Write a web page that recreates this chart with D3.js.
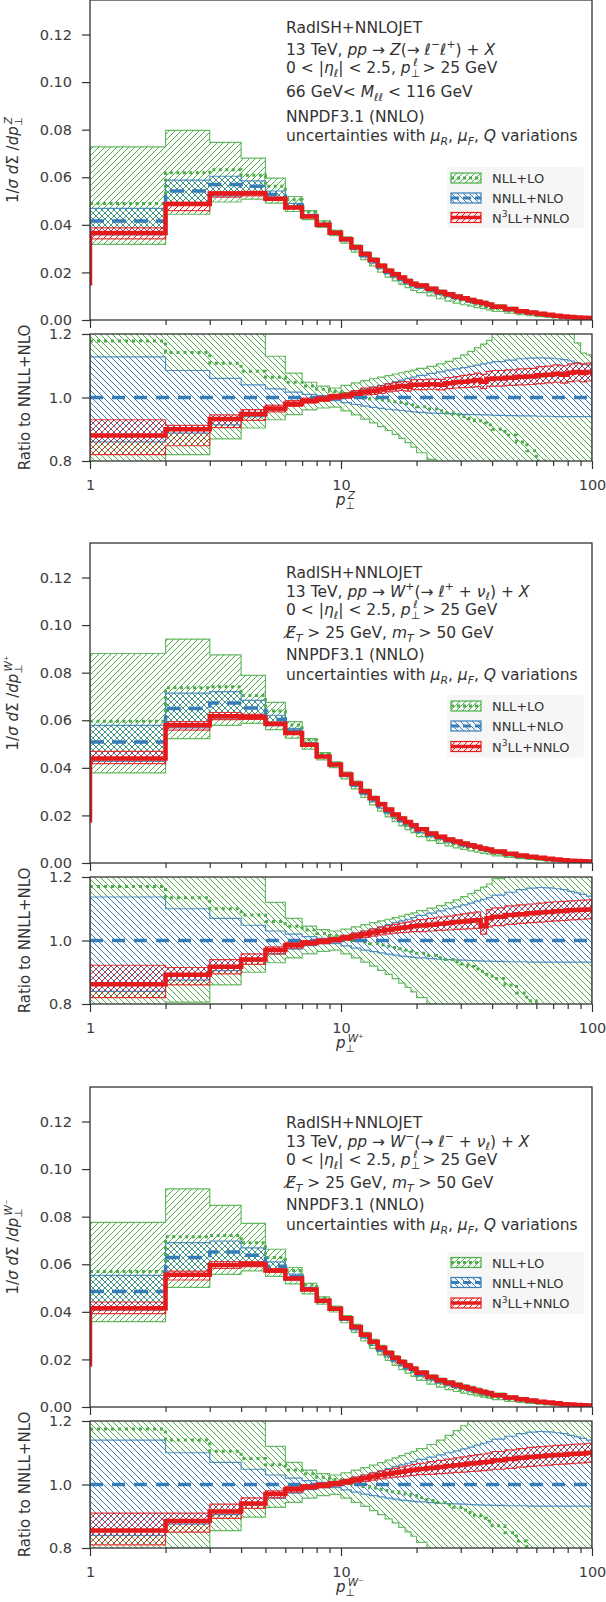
<!DOCTYPE html>
<html lang="en">
<head>
<meta charset="UTF-8">
<title>RadISH+NNLOJET transverse momentum spectra</title>
<script src="https://d3js.org/d3.v7.min.js"></script>
<style>
  body { margin: 0; background: #fff; }
  svg text { font-family: "DejaVu Sans", sans-serif; fill: #333; }
  .tick text { font-size: 14.5px; fill: #3c3c3c; font-family: "DejaVu Sans", sans-serif; }
  .tick line { stroke: #333; stroke-width: 1.2; }
</style>
</head>
<body>
<div id="chart"></div>
<script>
// bin edges (GeV)
const edges = [1,2,3,4,5,6,7,8,9,10,11,12,13,14,15,16,17,18,19,20,22,24,26,28,30,32,34,36,38,40,45,50,55,60,65,70,75,80,85,90,95,100];
const minorTicks = [2,3,4,5,6,7,8,9,20,30,40,50,60,70,80,90];
const mainTicks = [0, 0.02, 0.04, 0.06, 0.08, 0.10, 0.12];
const ratioTicks = [0.8, 1.0, 1.2];

// ---- Z panel ----
// NNLL+NLO central value, 1/sigma dSigma/dpT
const zBase = [0.0416,0.0542,0.0570,0.0562,0.0528,0.0482,0.0439,0.0402,0.0366,0.0337,0.0302,0.0272,0.0247,0.0222,0.0201,0.0186,0.0172,0.0159,0.0147,0.01394,0.01257,0.01135,0.01033,0.00945,0.00867,0.00798,0.0073,0.00676,0.00614,0.00528,0.00433,0.00347,0.00291,0.00243,0.00205,0.00167,0.0014,0.00121,0.00102,0.00088,0.00074];
// ratios to NNLL+NLO
const zNllMid = [1.178,1.142,1.108,1.083,1.064,1.048,1.036,1.026,1.019,1.012,1.005,0.998,0.995,0.992,0.99,0.987,0.984,0.98,0.977,0.971,0.964,0.958,0.952,0.946,0.94,0.934,0.927,0.92,0.913,0.9,0.882,0.86,0.832,0.8,0.77,0.74,0.71,0.68,0.66,0.64,0.62];
const zNllLo = [0.765,0.82,0.87,0.904,0.93,0.946,0.961,0.967,0.97,0.958,0.945,0.932,0.92,0.908,0.896,0.884,0.871,0.858,0.844,0.826,0.805,0.787,0.77,0.755,0.74,0.728,0.716,0.705,0.695,0.675,0.655,0.635,0.615,0.6,0.585,0.57,0.56,0.55,0.54,0.53,0.52];
const zNllHi = [1.75,1.47,1.31,1.21,1.13,1.077,1.048,1.036,1.03,1.038,1.046,1.053,1.059,1.064,1.069,1.074,1.078,1.082,1.086,1.092,1.098,1.106,1.114,1.123,1.134,1.145,1.157,1.168,1.18,1.2,1.23,1.26,1.28,1.3,1.31,1.3,1.25,1.2,1.172,1.14,1.134];
const zNnllLo = [0.86,0.888,0.914,0.94,0.96,0.975,0.985,0.99,0.99,0.984,0.978,0.973,0.969,0.966,0.963,0.961,0.959,0.957,0.955,0.953,0.951,0.95,0.949,0.948,0.947,0.946,0.946,0.945,0.945,0.944,0.943,0.942,0.942,0.941,0.941,0.94,0.94,0.94,0.94,0.94,0.94];
const zNnllHi = [1.128,1.085,1.06,1.04,1.027,1.017,1.01,1.006,1.008,1.014,1.02,1.027,1.033,1.038,1.044,1.05,1.055,1.06,1.064,1.07,1.076,1.081,1.086,1.09,1.094,1.098,1.102,1.106,1.109,1.113,1.118,1.122,1.124,1.125,1.124,1.122,1.119,1.115,1.11,1.106,1.102];
const zN3llMid = [0.88,0.9,0.932,0.948,0.965,0.98,0.99,0.996,1.002,1.006,1.012,1.018,1.021,1.025,1.03,1.033,1.036,1.034,1.04,1.04,1.042,1.04,1.045,1.048,1.05,1.052,1.055,1.05,1.058,1.06,1.062,1.065,1.066,1.07,1.072,1.075,1.072,1.078,1.08,1.077,1.08];
const zN3llLo = [0.82,0.848,0.905,0.928,0.955,0.972,0.982,0.988,0.994,0.997,1.002,1.008,1.01,1.013,1.018,1.02,1.022,1.02,1.025,1.025,1.026,1.024,1.028,1.03,1.031,1.032,1.034,1.028,1.035,1.036,1.038,1.04,1.041,1.044,1.046,1.048,1.045,1.05,1.052,1.049,1.052];
const zN3llHi = [0.93,0.912,0.945,0.962,0.976,0.99,0.998,1.004,1.01,1.015,1.022,1.03,1.032,1.037,1.043,1.047,1.05,1.049,1.056,1.056,1.058,1.057,1.063,1.066,1.07,1.073,1.077,1.073,1.082,1.085,1.087,1.09,1.092,1.097,1.099,1.103,1.1,1.106,1.108,1.105,1.108];
const zLead = 0.0145;

// ---- W+ panel ----
const wpBase = [0.0509,0.0649,0.0673,0.0652,0.0603,0.0555,0.05,0.0449,0.0413,0.0369,0.033,0.0296,0.0266,0.024,0.0217,0.0197,0.018,0.0165,0.0152,0.0135,0.0118,0.0105,0.0094,0.0085,0.0077,0.007,0.0064,0.0058,0.0053,0.0045,0.0036,0.0029,0.0024,0.002,0.0016,0.0013,0.0011,0.0009,0.0008,0.0007,0.0006];
const wpNllMid = [1.17,1.135,1.1,1.08,1.06,1.045,1.033,1.022,1.015,1.008,1.0,0.995,0.99,0.986,0.982,0.978,0.974,0.97,0.966,0.96,0.953,0.946,0.94,0.933,0.926,0.918,0.91,0.902,0.894,0.88,0.86,0.835,0.81,0.78,0.75,0.72,0.7,0.68,0.66,0.64,0.62];
const wpNllLo = [0.745,0.806,0.86,0.9,0.93,0.945,0.958,0.966,0.97,0.958,0.945,0.932,0.919,0.906,0.893,0.88,0.866,0.852,0.838,0.82,0.8,0.783,0.767,0.752,0.738,0.725,0.713,0.702,0.692,0.672,0.652,0.632,0.612,0.596,0.58,0.566,0.555,0.545,0.535,0.526,0.518];
const wpNllHi = [1.73,1.45,1.3,1.21,1.12,1.07,1.045,1.034,1.03,1.036,1.043,1.05,1.056,1.062,1.067,1.072,1.077,1.082,1.087,1.094,1.102,1.11,1.119,1.128,1.138,1.148,1.158,1.168,1.178,1.195,1.22,1.25,1.28,1.3,1.32,1.32,1.3,1.28,1.26,1.24,1.22];
const wpNnllLo = [0.84,0.875,0.905,0.935,0.957,0.973,0.984,0.99,0.99,0.983,0.976,0.97,0.965,0.961,0.957,0.954,0.951,0.949,0.947,0.945,0.943,0.941,0.94,0.939,0.938,0.937,0.936,0.935,0.935,0.934,0.933,0.933,0.932,0.932,0.932,0.932,0.932,0.932,0.932,0.932,0.932];
const wpNnllHi = [1.137,1.1,1.07,1.048,1.03,1.02,1.012,1.007,1.009,1.016,1.023,1.03,1.037,1.043,1.05,1.056,1.062,1.067,1.072,1.079,1.086,1.093,1.1,1.106,1.112,1.118,1.124,1.13,1.135,1.143,1.152,1.16,1.165,1.167,1.166,1.163,1.16,1.155,1.15,1.145,1.14];
const wpN3llMid = [0.862,0.892,0.917,0.94,0.97,0.985,0.993,0.998,1.002,1.008,1.014,1.02,1.025,1.03,1.034,1.037,1.04,1.042,1.045,1.047,1.05,1.053,1.055,1.058,1.06,1.062,1.064,1.045,1.07,1.075,1.08,1.083,1.086,1.088,1.09,1.092,1.093,1.095,1.096,1.097,1.098];
const wpN3llLo = [0.82,0.86,0.895,0.925,0.958,0.976,0.985,0.99,0.995,1.0,1.005,1.01,1.014,1.018,1.021,1.023,1.025,1.026,1.028,1.028,1.03,1.032,1.033,1.035,1.036,1.037,1.038,1.02,1.043,1.047,1.051,1.054,1.056,1.058,1.06,1.062,1.063,1.065,1.066,1.067,1.068];
const wpN3llHi = [0.922,0.915,0.94,0.958,0.98,0.994,1.0,1.005,1.01,1.016,1.023,1.03,1.036,1.042,1.047,1.051,1.055,1.058,1.062,1.066,1.07,1.074,1.077,1.081,1.084,1.087,1.09,1.07,1.097,1.103,1.109,1.112,1.115,1.118,1.12,1.122,1.123,1.125,1.126,1.127,1.128];
const wpLead = 0.017;

// ---- W- panel ----
const wmBase = [0.0485,0.0628,0.0652,0.0638,0.0592,0.0548,0.0497,0.0448,0.0412,0.037,0.0332,0.0298,0.0268,0.0242,0.0219,0.0199,0.0182,0.0167,0.0154,0.0137,0.012,0.0107,0.0096,0.0087,0.0079,0.0072,0.0065,0.0059,0.0054,0.0046,0.0037,0.003,0.0025,0.002,0.0017,0.0014,0.0011,0.001,0.0008,0.0007,0.0006];
const wmNllMid = [1.175,1.14,1.105,1.082,1.062,1.046,1.034,1.023,1.016,1.008,1.0,0.994,0.989,0.985,0.981,0.977,0.973,0.969,0.965,0.958,0.95,0.943,0.936,0.928,0.92,0.912,0.903,0.894,0.885,0.87,0.848,0.822,0.795,0.765,0.735,0.71,0.69,0.67,0.65,0.63,0.61];
const wmNllLo = [0.74,0.8,0.855,0.897,0.928,0.944,0.957,0.965,0.969,0.957,0.944,0.931,0.918,0.905,0.892,0.879,0.865,0.851,0.837,0.818,0.798,0.78,0.764,0.749,0.735,0.722,0.71,0.699,0.689,0.669,0.649,0.63,0.61,0.594,0.578,0.564,0.553,0.543,0.533,0.524,0.516];
const wmNllHi = [1.6,1.46,1.3,1.21,1.12,1.07,1.045,1.034,1.03,1.037,1.045,1.053,1.061,1.069,1.077,1.084,1.091,1.098,1.104,1.113,1.126,1.14,1.155,1.17,1.185,1.2,1.215,1.23,1.245,1.26,1.28,1.3,1.32,1.33,1.34,1.34,1.33,1.32,1.3,1.28,1.26];
const wmNnllLo = [0.84,0.875,0.905,0.935,0.957,0.973,0.984,0.99,0.99,0.983,0.976,0.97,0.965,0.961,0.957,0.954,0.951,0.949,0.947,0.945,0.943,0.941,0.94,0.939,0.938,0.937,0.936,0.935,0.935,0.934,0.933,0.933,0.932,0.932,0.932,0.932,0.932,0.932,0.932,0.932,0.932];
const wmNnllHi = [1.14,1.1,1.07,1.048,1.03,1.02,1.012,1.007,1.009,1.016,1.023,1.03,1.037,1.043,1.05,1.056,1.062,1.067,1.072,1.079,1.086,1.093,1.1,1.106,1.112,1.118,1.124,1.13,1.135,1.143,1.152,1.16,1.165,1.167,1.166,1.163,1.16,1.155,1.15,1.145,1.14];
const wmN3llMid = [0.855,0.885,0.915,0.94,0.97,0.985,0.993,0.998,1.002,1.008,1.014,1.02,1.025,1.03,1.034,1.037,1.04,1.043,1.046,1.049,1.052,1.055,1.058,1.061,1.063,1.066,1.068,1.07,1.072,1.076,1.08,1.084,1.087,1.089,1.091,1.093,1.094,1.096,1.097,1.098,1.1];
const wmN3llLo = [0.81,0.85,0.893,0.925,0.958,0.976,0.985,0.99,0.995,1.0,1.005,1.01,1.014,1.018,1.021,1.023,1.025,1.027,1.029,1.031,1.032,1.034,1.036,1.038,1.039,1.041,1.042,1.044,1.045,1.048,1.051,1.055,1.057,1.059,1.061,1.063,1.064,1.066,1.067,1.068,1.07];
const wmN3llHi = [0.91,0.91,0.938,0.958,0.98,0.994,1.0,1.005,1.01,1.016,1.023,1.03,1.036,1.042,1.047,1.051,1.055,1.059,1.063,1.067,1.072,1.076,1.08,1.084,1.087,1.091,1.094,1.096,1.099,1.104,1.109,1.113,1.117,1.119,1.121,1.123,1.124,1.126,1.127,1.128,1.13];
const wmLead = 0.017;

// ---- texts ----
const zNotes = [
  [['RadISH+NNLOJET']],
  [['13 TeV, '],['pp','i'],[' → '],['Z','i'],['(→ '],['ℓ','i'],['−','sup'],['ℓ','i'],['+','sup'],[') + '],['X','i']],
  [['0 < |'],['η','i'],['ℓ','isub'],['| < 2.5, '],['p','i'],['⊥','sub'],['ℓ','isup',-7],[' > 25 GeV']],
  [['66 GeV< '],['M','i'],['ℓℓ','isub'],[' < 116 GeV']],
  [['NNPDF3.1 (NNLO)']],
  [['uncertainties with '],['μ','i'],['R','isub'],[', '],['μ','i'],['F','isub'],[', '],['Q','i'],[' variations']]
];
const wpNotes = [
  [['RadISH+NNLOJET']],
  [['13 TeV, '],['pp','i'],[' → '],['W','i'],['+','sup'],['(→ '],['ℓ','i'],['+','sup'],[' + '],['ν','i'],['ℓ','isub'],[') + '],['X','i']],
  zNotes[2],
  [['E\u0338','i'],['T','isub'],[' > 25 GeV, '],['m','i'],['T','isub'],[' > 50 GeV']],
  zNotes[4],
  zNotes[5]
];
const wmNotes = [
  wpNotes[0],
  [['13 TeV, '],['pp','i'],[' → '],['W','i'],['−','sup'],['(→ '],['ℓ','i'],['−','sup'],[' + '],['ν','i'],['ℓ','isub'],[') + '],['X','i']],
  zNotes[2], wpNotes[3], zNotes[4], zNotes[5]
];
const legendNames = [[['NLL+LO']], [['NNLL+NLO']], [['N'],['3','sup'],['LL+NNLO']]];

const panels = [
  {off: 0, base: zBase, nll: [zNllMid, zNllLo, zNllHi], nnll: [zNnllLo, zNnllHi], n3ll: [zN3llMid, zN3llLo, zN3llHi], lead: zLead,
   boson: 'Z', notes: zNotes, noteY: [33, 55, 73, 97, 122, 141], legY: [178, 198, 217.5]},
  {off: 543, base: wpBase, nll: [wpNllMid, wpNllLo, wpNllHi], nnll: [wpNnllLo, wpNnllHi], n3ll: [wpN3llMid, wpN3llLo, wpN3llHi], lead: wpLead,
   boson: 'W⁺', notes: wpNotes, noteY: [35, 53.5, 72, 95, 117, 137], legY: [163, 183, 203.5]},
  {off: 1087, base: wmBase, nll: [wmNllMid, wmNllLo, wmNllHi], nnll: [wmNnllLo, wmNnllHi], n3ll: [wmN3llMid, wmN3llLo, wmN3llHi], lead: wmLead,
   boson: 'W⁻', notes: wmNotes, noteY: [41, 59.5, 78, 101, 123, 143], legY: [175.5, 195.5, 216]}
];

const green = '#4daf4a', blue = '#377eb8', red = '#e41a1c';

const svg = d3.select('#chart').append('svg')
    .attr('width', 606).attr('height', 1602);
const defs = svg.append('defs');

// hatch patterns
function hatch(id, color, dir) {
    const s = 6;
    const d = dir === '/'
        ? `M0,${s} L${s},0 M${-s/2},${s/2} L${s/2},${-s/2} M${s/2},${s*1.5} L${s*1.5},${s/2}`
        : `M0,0 L${s},${s} M${-s/2},${s/2} L${s/2},${s*1.5} M${s/2},${-s/2} L${s*1.5},${s/2}`;
    defs.append('pattern').attr('id', id)
        .attr('patternUnits', 'userSpaceOnUse').attr('width', s).attr('height', s)
        .append('path').attr('d', d).attr('stroke', color).attr('stroke-width', 1).attr('fill', 'none');
}
hatch('gF', green, '/'); hatch('gB', green, '\\');
hatch('bB', blue, '\\'); hatch('rF', red, '/');

// rich text with italic / sub / superscripts
function rich(sel, parts, size) {
    let shift = 0;
    parts.forEach(([t, s = '', dx = 0]) => {
        const sup = s.endsWith('sup'), sub = s.endsWith('sub');
        const target = sup ? -0.42 * size : sub ? 0.25 * size : 0;
        const ts = sel.append('tspan').text(t).attr('dy', target - shift);
        if (dx) ts.attr('dx', dx);
        shift = target;
        if (s.startsWith('i')) ts.attr('font-style', 'italic');
        if (sup || sub) ts.attr('font-size', size * 0.7);
    });
}

function stepLine(vals, x, y, lead) {
    let d = lead !== undefined ? `M${x(edges[0])},${y(lead)}` : '';
    vals.forEach((v, i) => {
        d += (i === 0 && lead === undefined ? `M${x(edges[0])},${y(v)}` : `V${y(v)}`) + `H${x(edges[i + 1])}`;
    });
    return d;
}
function stepBand(lo, hi, x, y) {
    let d = stepLine(hi, x, y);
    for (let i = lo.length - 1; i >= 0; i--) d += `V${y(lo[i])}H${x(edges[i])}`;
    return d + 'Z';
}

const x = d3.scaleLog().domain([1, 100]).range([90, 592]);
const yM = d3.scaleLinear().domain([0, 0.1345]).range([320, 0]);
const yR = d3.scaleLinear().domain([0.8, 1.2]).range([461, 334]);

function drawPanel(p, k) {
    const g = svg.append('g').attr('transform', `translate(0,${p.off})`);
    const times = r => p.base.map((b, i) => b * r[i]);
    const ones = p.base.map(() => 1);

    ['M', 'R'].forEach(t => {
        const y = t === 'M' ? yM : yR;
        defs.append('clipPath').attr('id', `clip${t}${k}`)
            .append('rect').attr('x', 90).attr('y', y.range()[1])
            .attr('width', 502).attr('height', y.range()[0] - y.range()[1]);
    });

    // main panel
    const m = g.append('g').attr('clip-path', `url(#clipM${k})`);
    const mainBands = [
        [times(p.nll[1]), times(p.nll[2]), 'url(#gF)', green],
        [times(p.nnll[0]), times(p.nnll[1]), 'url(#bB)', blue],
        [times(p.n3ll[1]), times(p.n3ll[2]), 'url(#rF)', red]
    ];
    mainBands.forEach(([lo, hi, fill, c]) => {
        m.append('path').attr('d', stepBand(lo, hi, x, yM))
            .attr('fill', fill).attr('stroke', c).attr('stroke-width', 1.2).attr('stroke-opacity', 0.85);
    });
    m.append('path').attr('d', stepLine(times(p.nll[0]), x, yM)).attr('fill', 'none')
        .attr('stroke', green).attr('stroke-width', 3).attr('stroke-dasharray', '3,3.5');
    m.append('path').attr('d', stepLine(p.base, x, yM)).attr('fill', 'none')
        .attr('stroke', blue).attr('stroke-width', 3.5).attr('stroke-dasharray', '14,8');
    m.append('path').attr('d', stepLine(times(p.n3ll[0]), x, yM, p.lead)).attr('fill', 'none')
        .attr('stroke', red).attr('stroke-width', 4.5);

    // ratio panel
    const r = g.append('g').attr('clip-path', `url(#clipR${k})`);
    [[p.nll[1], p.nll[2], 'url(#gB)', green], [p.nnll[0], p.nnll[1], 'url(#bB)', blue], [p.n3ll[1], p.n3ll[2], 'url(#rF)', red]]
        .forEach(([lo, hi, fill, c]) => {
            r.append('path').attr('d', stepBand(lo, hi, x, yR))
                .attr('fill', fill).attr('stroke', c).attr('stroke-width', 1.2).attr('stroke-opacity', 0.85);
        });
    r.append('path').attr('d', stepLine(p.nll[0], x, yR)).attr('fill', 'none')
        .attr('stroke', green).attr('stroke-width', 3).attr('stroke-dasharray', '3,4');
    r.append('path').attr('d', stepLine(ones, x, yR)).attr('fill', 'none')
        .attr('stroke', blue).attr('stroke-width', 3.5).attr('stroke-dasharray', '13,9');
    r.append('path').attr('d', stepLine(p.n3ll[0], x, yR)).attr('fill', 'none')
        .attr('stroke', red).attr('stroke-width', 4.5);

    // axes
    g.append('g').attr('transform', 'translate(90,0)')
        .call(d3.axisLeft(yM).tickValues(mainTicks).tickFormat(d3.format('.2f')).tickSize(8).tickPadding(10))
        .call(a => a.select('.domain').remove());
    g.append('g').attr('transform', 'translate(90,0)')
        .call(d3.axisLeft(yR).tickValues(ratioTicks).tickFormat(d3.format('.1f')).tickSize(8).tickPadding(10))
        .call(a => a.select('.domain').remove());
    [[320, true], [461, false]].forEach(([yy, bare]) => {
        g.append('g').attr('transform', `translate(0,${yy})`)
            .call(d3.axisBottom(x).tickValues([1, 10, 100]).tickFormat(bare ? () => '' : d3.format('d')).tickSize(8).tickPadding(11))
            .call(a => a.select('.domain').remove());
        g.append('g').attr('transform', `translate(0,${yy})`)
            .call(d3.axisBottom(x).tickValues(minorTicks).tickFormat(() => '').tickSize(5))
            .call(a => a.select('.domain').remove());
    });

    // frames
    [[0, 320], [334, 461]].forEach(([y0, y1]) => {
        g.append('rect').attr('x', 90).attr('y', y0).attr('width', 502).attr('height', y1 - y0)
            .attr('fill', 'none').attr('stroke', '#333').attr('stroke-width', 1.3);
    });

    // axis labels
    rich(g.append('text').attr('transform', 'translate(18,160) rotate(-90)').attr('text-anchor', 'middle').attr('font-size', 15),
        [['1/'], ['σ', 'i'], [' d', 'i'], ['Σ'], [' /'], ['dp', 'i'], ['⊥', 'sub'], [p.boson, 'isup', -7]], 15);
    g.append('text').attr('transform', 'translate(30,397.5) rotate(-90)').attr('text-anchor', 'middle')
        .attr('font-size', 15).text('Ratio to NNLL+NLO');
    rich(g.append('text').attr('x', 336).attr('y', 505).attr('font-size', 15),
        [['p', 'i'], ['⊥', 'sub'], [p.boson, 'isup', -7]], 15);

    // annotations
    p.notes.forEach((parts, i) => {
        rich(g.append('text').attr('x', 286).attr('y', p.noteY[i]).attr('font-size', 15.5), parts, 15.5);
    });

    // legend
    g.append('rect').attr('x', 447).attr('y', p.legY[0] - 11).attr('width', 137).attr('height', p.legY[2] - p.legY[0] + 22)
        .attr('rx', 3).attr('fill', '#f6f6f6');
    const handles = [['url(#gF)', green, 3, '3,3'], ['url(#bB)', blue, 3, '8,4'], ['url(#rF)', red, 3.5, null]];
    handles.forEach(([fill, c, w, dash], i) => {
        const yy = p.legY[i];
        g.append('rect').attr('x', 451).attr('y', yy - 5).attr('width', 30).attr('height', 10)
            .attr('fill', fill).attr('stroke', c).attr('stroke-width', 1.2);
        g.append('line').attr('x1', 451).attr('x2', 481).attr('y1', yy).attr('y2', yy)
            .attr('stroke', c).attr('stroke-width', w).attr('stroke-dasharray', dash);
        rich(g.append('text').attr('x', 492).attr('y', yy + 5).attr('font-size', 13), legendNames[i], 13);
    });
}

panels.forEach(drawPanel);
</script>
</body>
</html>
